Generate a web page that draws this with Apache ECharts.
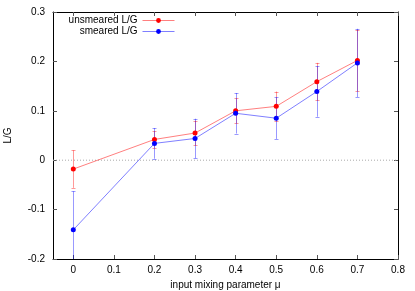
<!DOCTYPE html>
<html>
<head>
<meta charset="utf-8">
<script src="https://cdn.jsdelivr.net/npm/echarts@6/dist/echarts.min.js"></script>
<style>html,body{margin:0;padding:0;background:#fff}#c{width:415px;height:291px}</style>
</head>
<body>
<div id="c"></div>
<script>
var xValues = [0, 0.2, 0.3, 0.4, 0.5, 0.6, 0.7];
var unsmeared = [-0.018, 0.042, 0.055, 0.100, 0.109, 0.159, 0.202];
var unsmearedErr = [0.038, 0.017, 0.025, 0.025, 0.030, 0.038, 0.062];
var smeared = [-0.141, 0.034, 0.044, 0.095, 0.085, 0.139, 0.197];
var smearedErr = [0.078, 0.031, 0.040, 0.041, 0.042, 0.051, 0.069];
var xTicks = [0, 0.1, 0.2, 0.3, 0.4, 0.5, 0.6, 0.7, 0.8];
var names = ['unsmeared L/G', 'smeared L/G'];

var FONT = 'Liberation Sans';
function pts(ys) { return xValues.map(function (x, i) { return [x, ys[i]]; }); }
function errPts(ys, es) { return xValues.map(function (x, i) { return [x, ys[i], es[i]]; }); }

function errRender(color) {
  return function (params, api) {
    var x = api.value(0), y = api.value(1), e = api.value(2);
    var top = api.coord([x, y + e]);
    var bot = api.coord([x, y - e]);
    var cs = params.coordSys;
    var y0 = Math.max(top[1], cs.y), y1 = Math.min(bot[1], cs.y + cs.height);
    var cx = Math.round(top[0]) + 0.5;
    var children = [{ type: 'line', shape: { x1: cx, y1: y0, x2: cx, y2: y1 }, style: { stroke: color, lineWidth: 1 } }];
    if (top[1] >= cs.y) children.push({ type: 'line', shape: { x1: cx - 2, y1: Math.round(top[1]) + 0.5, x2: cx + 2, y2: Math.round(top[1]) + 0.5 }, style: { stroke: color, lineWidth: 1 } });
    if (bot[1] <= cs.y + cs.height) children.push({ type: 'line', shape: { x1: cx - 2, y1: Math.round(bot[1]) + 0.5, x2: cx + 2, y2: Math.round(bot[1]) + 0.5 }, style: { stroke: color, lineWidth: 1 } });
    return { type: 'group', children: children };
  };
}

var chart = echarts.init(document.getElementById('c'), null, { renderer: 'canvas' });
var lineCommon = { show: true, onZero: false, lineStyle: { color: '#000', width: 1 } };
var tickStyle = { color: '#555' };
chart.setOption({
  animation: false,
  textStyle: { fontFamily: FONT },
  grid: { left: 53, right: 17, top: 12, bottom: 32, containLabel: false, outerBoundsMode: 'none' },
  legend: {
    orient: 'vertical', align: 'right', right: 240, top: 15, padding: 0,
    itemWidth: 32, itemHeight: 6, itemGap: 0,
    lineStyle: { width: 1 },
    textStyle: { fontFamily: FONT, fontSize: 10, color: '#000', lineHeight: 11 },
    data: names
  },
  xAxis: [
    {
      type: 'value', min: -0.05, max: 0.8, position: 'bottom',
      axisLine: lineCommon, splitLine: { show: false },
      axisTick: { show: true, inside: true, length: 4, lineStyle: tickStyle, customValues: xTicks },
      axisLabel: { customValues: xTicks, margin: 6, fontSize: 10, color: '#000', fontFamily: FONT,
        formatter: function (v) { return String(+v.toFixed(1)); } },
      name: 'input mixing parameter μ', nameLocation: 'middle', nameGap: 19,
      nameTextStyle: { fontSize: 10, color: '#000', fontFamily: FONT }
    },
    {
      type: 'value', min: -0.05, max: 0.8, position: 'top',
      axisLine: lineCommon, splitLine: { show: false },
      axisTick: { show: true, inside: true, length: 4, lineStyle: tickStyle, customValues: xTicks },
      axisLabel: { show: false }
    }
  ],
  yAxis: [
    {
      type: 'value', min: -0.2, max: 0.3, interval: 0.1, position: 'left',
      axisLine: lineCommon, splitLine: { show: false },
      axisTick: { show: true, inside: true, length: 4, lineStyle: tickStyle },
      axisLabel: { margin: 8, fontSize: 10, color: '#000', fontFamily: FONT,
        formatter: function (v) { return String(+v.toFixed(1)); } },
      name: 'L/G', nameLocation: 'middle', nameGap: 40, nameRotate: 90,
      nameTextStyle: { fontSize: 10, color: '#000', fontFamily: FONT }
    },
    {
      type: 'value', min: -0.2, max: 0.3, interval: 0.1, position: 'right',
      axisLine: lineCommon, splitLine: { show: false },
      axisTick: { show: true, inside: true, length: 4, lineStyle: tickStyle },
      axisLabel: { show: false }
    }
  ],
  series: [
    {
      type: 'line', name: 'zero', data: [[-0.05, 0], [0.8, 0]], symbol: 'none', silent: true,
      lineStyle: { color: '#aaa', width: 1, type: [1, 2] }, z: 1
    },
    {
      type: 'custom', name: 'err0', data: errPts(unsmeared, unsmearedErr),
      renderItem: errRender('rgba(255,0,0,0.4)'), z: 2
    },
    {
      type: 'custom', name: 'err1', data: errPts(smeared, smearedErr),
      renderItem: errRender('rgba(0,0,255,0.4)'), z: 2
    },
    {
      type: 'line', name: names[0], data: pts(unsmeared), symbol: 'circle', symbolSize: 5,
      itemStyle: { color: '#ff0000' }, lineStyle: { color: 'rgba(255,0,0,0.5)', width: 1 }, z: 3
    },
    {
      type: 'line', name: names[1], data: pts(smeared), symbol: 'circle', symbolSize: 5,
      itemStyle: { color: '#0000ff' }, lineStyle: { color: 'rgba(0,0,255,0.5)', width: 1 }, z: 3
    }
  ]
});
</script>
</body>
</html>
